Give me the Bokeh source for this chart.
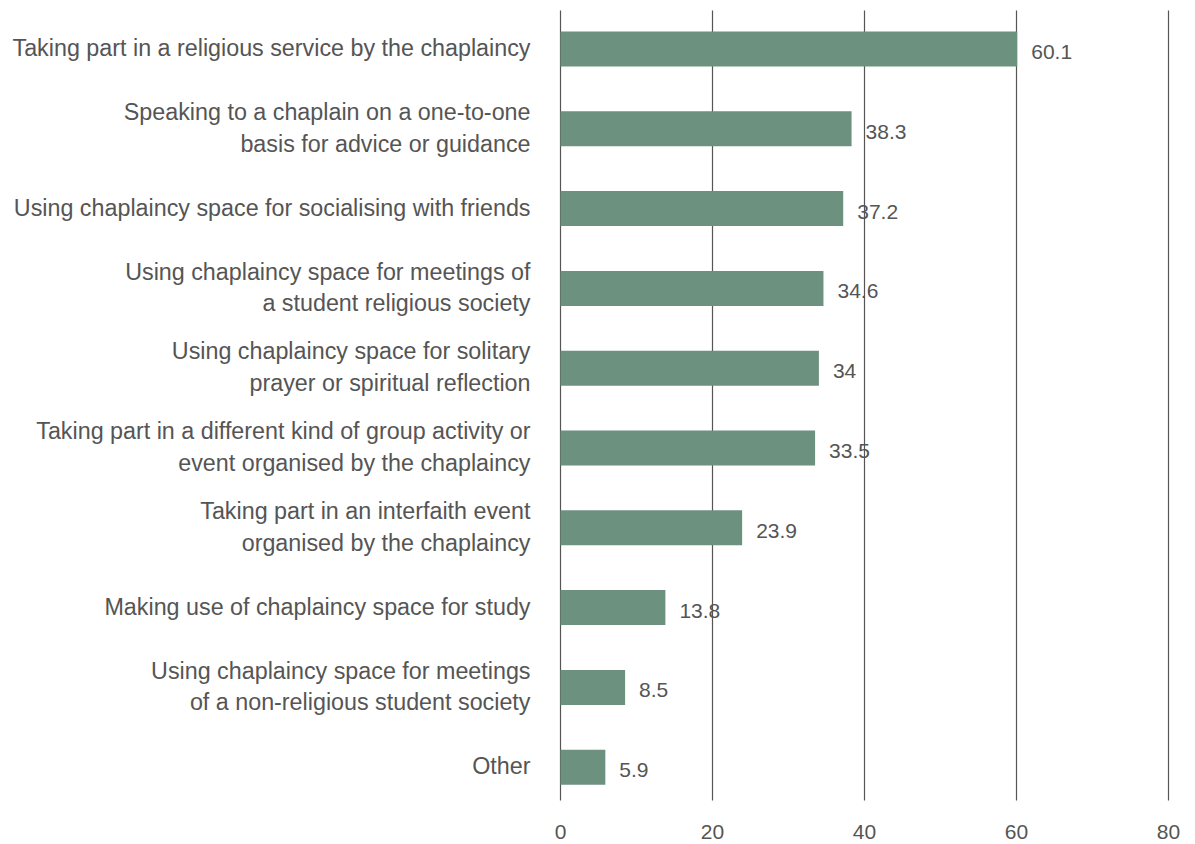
from bokeh.plotting import figure
from bokeh.models import Range1d, ColumnDataSource
from bokeh.core.properties import value
from bokeh.embed import file_html
from bokeh.resources import INLINE

categories = [
    "Taking part in a religious service by the chaplaincy",
    "Speaking to a chaplain on a one-to-one\nbasis for advice or guidance",
    "Using chaplaincy space for socialising with friends",
    "Using chaplaincy space for meetings of\na student religious society",
    "Using chaplaincy space for solitary\nprayer or spiritual reflection",
    "Taking part in a different kind of group activity or\nevent organised by the chaplaincy",
    "Taking part in an interfaith event\norganised by the chaplaincy",
    "Making use of chaplaincy space for study",
    "Using chaplaincy space for meetings\nof a non-religious student society",
    "Other",
]
values = [60.1, 38.3, 37.2, 34.6, 34, 33.5, 23.9, 13.8, 8.5, 5.9]
ticks = [0, 20, 40, 60, 80]

FONT = "Liberation Sans"
TXT = "#555555"
BAR = "#6d917f"

W, H = 1195, 844
px_per_unit = 7.6
zero_px = 560
n = len(categories)
ypos = [n - 1 - i for i in range(n)]
row_px = 79.8
top_center = 48.5
bot_center = top_center + (n - 1) * row_px

p = figure(width=W, height=H, output_backend="svg", toolbar_location=None,
           x_range=Range1d(-zero_px / px_per_unit, (W - zero_px) / px_per_unit),
           y_range=Range1d(-(H - bot_center) / row_px, (n - 1) + top_center / row_px),
           min_border=0)
p.axis.visible = False
p.grid.visible = False
p.outline_line_color = None
p.background_fill_color = "white"
p.border_fill_color = "white"

src = ColumnDataSource(dict(
    cat=categories, val=values, y=ypos,
    lab=[f"{v:g}" for v in values],
    zero=[0] * n,
))

# category labels
p.text(x="zero", y="y", text="cat", source=src, x_offset=-30, y_offset=-1,
       text_align="right", text_baseline="middle",
       text_font=value(FONT), text_font_size="23.3px", text_color=TXT,
       text_line_height=1.22)
# value labels
p.text(x="val", y="y", text="lab", source=src, x_offset=14, y_offset=3,
       text_align="left", text_baseline="middle",
       text_font=value(FONT), text_font_size="21px", text_color=TXT)

# gridlines
gtop = (n - 1) + (top_center - 10) / row_px
gbot = -(800 - bot_center) / row_px
p.segment(x0=ticks, x1=ticks, y0=[gbot] * len(ticks), y1=[gtop] * len(ticks),
          line_color="#555555", line_width=1.2)

# bars
p.hbar(y="y", left="zero", right="val", height=35 / row_px, source=src,
       fill_color=BAR, line_color=None)

# tick labels
p.text(x=ticks, y=[-(831 - bot_center) / row_px] * len(ticks),
       text=[str(t) for t in ticks],
       text_align="center", text_baseline="middle",
       text_font=value(FONT), text_font_size="21px", text_color=TXT)

open("out.html", "w").write(file_html(p, INLINE))
